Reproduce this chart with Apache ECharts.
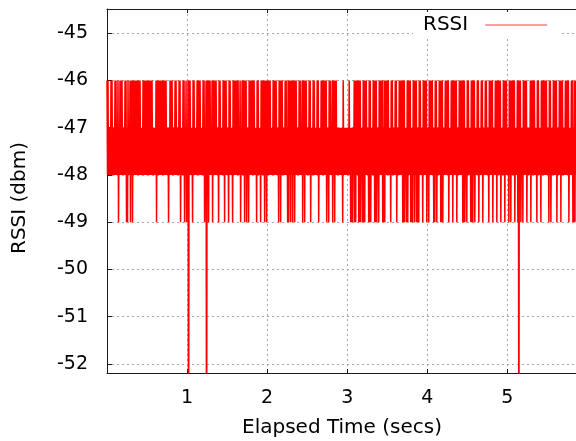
<!DOCTYPE html>
<html>
<head>
<meta charset="utf-8">
<title>RSSI vs elapsed time</title>
<script src="https://cdn.jsdelivr.net/npm/echarts@6/dist/echarts.min.js"></script>
<style>
  html, body { margin: 0; padding: 0; background: #ffffff; }
  #chart { width: 576px; height: 441px; }
</style>
</head>
<body>
<div id="chart"></div>
<script>
// Time between consecutive RSSI readings, in seconds
const sampleInterval = 0.00625;

// Received signal strength readings (dBm), in capture order
const rssi = [
  -46, -48, -46, -48, -47, -48, -47, -48, -46, -48, -46, -48, -47, -48, -47, -48, -46, -48, -46, -48,
  -47, -48, -46, -49, -47, -48, -46, -48, -46, -48, -46, -48, -47, -48, -47, -48, -46, -48, -46, -49,
  -47, -49, -46, -48, -47, -48, -46, -49, -46, -48, -46, -49, -46, -48, -46, -48, -46, -48, -46, -48,
  -46, -48, -46, -48, -46, -48, -46, -48, -47, -48, -47, -48, -46, -48, -46, -48, -46, -48, -46, -48,
  -46, -48, -46, -48, -46, -48, -46, -48, -46, -48, -46, -48, -47, -48, -47, -48, -47, -48, -46, -49,
  -46, -48, -46, -48, -46, -48, -46, -48, -46, -48, -46, -48, -46, -48, -46, -48, -46, -48, -46, -48,
  -47, -48, -47, -49, -47, -48, -46, -48, -46, -48, -46, -48, -47, -48, -47, -48, -46, -48, -46, -48,
  -47, -48, -47, -48, -46, -48, -46, -49, -47, -48, -47, -48, -46, -48, -46, -49, -47, -48, -46, -49,
  -47, -48, -46, -56, -46, -48, -46, -48, -47, -48, -47, -49, -46, -48, -46, -48, -47, -48, -47, -48,
  -46, -48, -46, -48, -46, -48, -46, -48, -47, -48, -47, -48, -46, -48, -46, -49, -47, -48, -46, -56,
  -46, -48, -46, -49, -46, -48, -46, -48, -47, -48, -46, -49, -46, -48, -46, -48, -46, -48, -46, -48,
  -47, -48, -47, -49, -46, -48, -46, -48, -47, -48, -47, -48, -46, -48, -46, -49, -46, -48, -46, -48,
  -47, -48, -47, -49, -46, -48, -46, -48, -47, -48, -47, -49, -46, -48, -46, -48, -46, -48, -46, -48,
  -46, -48, -46, -48, -47, -48, -46, -49, -47, -48, -46, -48, -46, -48, -46, -49, -46, -48, -46, -49,
  -47, -48, -47, -49, -46, -48, -46, -48, -46, -48, -46, -48, -46, -48, -46, -48, -47, -48, -47, -49,
  -46, -48, -46, -48, -47, -48, -47, -49, -46, -48, -46, -48, -46, -48, -46, -49, -46, -48, -46, -49,
  -46, -48, -46, -48, -46, -48, -46, -48, -47, -48, -47, -48, -46, -48, -46, -48, -46, -48, -46, -48,
  -47, -48, -47, -49, -46, -48, -46, -49, -46, -48, -46, -48, -47, -48, -47, -48, -46, -48, -46, -48,
  -47, -49, -46, -49, -46, -48, -46, -49, -46, -48, -46, -49, -46, -48, -46, -49, -46, -48, -46, -48,
  -47, -48, -47, -48, -46, -48, -46, -48, -47, -48, -46, -49, -46, -48, -46, -49, -46, -48, -46, -48,
  -47, -48, -47, -48, -46, -48, -46, -49, -47, -48, -47, -48, -46, -48, -46, -48, -47, -48, -47, -48,
  -46, -48, -46, -49, -47, -48, -47, -48, -46, -48, -46, -48, -46, -48, -46, -48, -46, -48, -46, -49,
  -47, -48, -47, -49, -46, -48, -46, -48, -47, -48, -46, -49, -46, -48, -46, -49, -46, -48, -46, -48,
  -47, -48, -47, -48, -47, -48, -47, -48, -47, -48, -47, -49, -46, -48, -47, -48, -47, -48, -47, -48,
  -47, -48, -47, -48, -46, -48, -47, -49, -47, -49, -47, -49, -47, -48, -46, -49, -46, -49, -46, -48,
  -46, -48, -46, -49, -46, -49, -46, -49, -47, -48, -47, -49, -46, -49, -46, -49, -46, -48, -46, -48,
  -47, -48, -47, -49, -46, -49, -46, -49, -47, -48, -47, -48, -46, -48, -46, -49, -46, -49, -46, -49,
  -47, -48, -47, -49, -46, -48, -46, -48, -46, -48, -46, -49, -47, -49, -46, -49, -46, -48, -46, -48,
  -46, -48, -46, -48, -47, -48, -47, -49, -46, -48, -46, -48, -47, -48, -47, -48, -46, -48, -46, -49,
  -47, -48, -47, -48, -46, -48, -46, -48, -46, -48, -46, -49, -46, -49, -46, -49, -47, -48, -47, -49,
  -46, -49, -46, -48, -46, -48, -46, -49, -47, -49, -47, -49, -46, -48, -46, -49, -46, -48, -46, -49,
  -47, -49, -47, -49, -46, -48, -46, -48, -47, -48, -47, -49, -46, -48, -46, -48, -46, -48, -46, -49,
  -47, -48, -47, -49, -46, -48, -46, -48, -46, -48, -46, -48, -47, -49, -47, -49, -46, -48, -46, -49,
  -47, -48, -47, -48, -46, -48, -46, -49, -46, -49, -46, -49, -47, -48, -47, -48, -46, -48, -46, -48,
  -46, -48, -46, -49, -47, -48, -47, -48, -46, -48, -46, -49, -46, -48, -46, -48, -46, -48, -46, -49,
  -47, -48, -47, -48, -46, -48, -46, -48, -46, -48, -46, -49, -46, -49, -46, -49, -47, -48, -47, -49,
  -46, -48, -46, -48, -47, -48, -47, -49, -46, -49, -46, -49, -46, -48, -46, -49, -47, -48, -47, -48,
  -46, -48, -46, -49, -47, -48, -47, -48, -46, -48, -46, -49, -47, -48, -47, -48, -46, -48, -46, -48,
  -47, -48, -47, -49, -46, -48, -46, -48, -46, -48, -46, -49, -47, -48, -47, -48, -46, -48, -46, -49,
  -46, -48, -46, -48, -46, -48, -46, -49, -47, -48, -47, -48, -46, -48, -46, -49, -46, -48, -46, -48,
  -47, -48, -47, -49, -46, -48, -46, -49, -46, -48, -46, -48, -46, -48, -46, -49, -47, -48, -47, -48,
  -46, -49, -46, -55, -46, -48, -46, -49, -47, -48, -47, -49, -46, -48, -46, -48, -46, -48, -46, -49,
  -47, -48, -47, -48, -47, -48, -46, -49, -46, -48, -46, -48, -46, -48, -46, -48, -47, -48, -47, -49,
  -46, -48, -46, -48, -47, -48, -47, -49, -46, -48, -46, -48, -46, -48, -46, -48, -46, -48, -46, -48,
  -47, -48, -47, -49, -46, -48, -46, -49, -47, -48, -47, -48, -46, -48, -46, -48, -46, -48, -46, -49,
  -47, -48, -47, -48, -46, -48, -46, -49, -46, -48, -46, -48, -47, -48, -47, -48, -46, -48, -46, -48,
  -46, -48, -46, -49, -47, -48, -47, -48, -46, -48, -46, -49, -47, -49, -46, -49, -46, -48, -46, -49
];

// Axis tick labels
const timeTicks = [1, 2, 3, 4, 5];
const rssiTicks = [-52, -51, -50, -49, -48, -47, -46, -45];

const seriesName = 'RSSI';
const fontFamily = 'DejaVu Sans';

// Pair each reading with its elapsed time
const points = rssi.map((v, i) => [i * sampleInterval, v]);

const gridLine = { show: true, lineStyle: { color: '#a8a8a8', width: 1, type: [2, 3] } };
const borderLine = { show: true, lineStyle: { color: '#1a1a1a', width: 1 } };

const chart = echarts.init(document.getElementById('chart'), null, { renderer: 'canvas' });

chart.setOption({
  animation: false,
  backgroundColor: '#ffffff',
  grid: {
    left: 107, right: -1, top: 9, bottom: 68,
    containLabel: false,
    outerBoundsMode: 'none'
  },
  legend: {
    data: [{ name: seriesName, icon: 'rect' }],
    left: 413, top: 12,
    align: 'right',
    itemWidth: 62, itemHeight: 1,
    padding: [3, 14, 3, 10],
    backgroundColor: '#ffffff',
    itemStyle: { color: '#ff4040' },
    textStyle: { fontFamily, fontSize: 20, color: '#000', padding: [0, 12, 0, 0] },
    z: 10
  },
  xAxis: [
    {
      type: 'value',
      min: 0, max: 5.87,
      minInterval: 1, maxInterval: 1,
      name: 'Elapsed Time (secs)',
      nameLocation: 'middle',
      nameGap: 45,
      nameTextStyle: { fontFamily, fontSize: 20, color: '#000' },
      axisLine: borderLine,
      axisTick: { show: true, inside: true, length: 4, lineStyle: { color: '#1a1a1a' } },
      axisLabel: {
        margin: 16,
        fontFamily, fontSize: 19, color: '#000',
        formatter: v => (timeTicks.includes(v) ? String(v) : '')
      },
      splitLine: gridLine
    },
    {
      type: 'value',
      position: 'top',
      min: 0, max: 5.87,
      minInterval: 1, maxInterval: 1,
      axisLine: borderLine,
      axisTick: { show: true, inside: true, length: 4, lineStyle: { color: '#1a1a1a' } },
      axisLabel: { show: false },
      splitLine: { show: false }
    }
  ],
  yAxis: {
    type: 'value',
    min: -52.19, max: -44.49,
    minInterval: 1, maxInterval: 1,
    name: 'RSSI (dbm)',
    nameLocation: 'middle',
    nameGap: 77,
    nameTextStyle: { fontFamily, fontSize: 20, color: '#000', padding: [0, 14, 0, 0] },
    axisLine: borderLine,
    axisTick: { show: true, inside: true, length: 5, lineStyle: { color: '#1a1a1a' } },
    axisLabel: {
      margin: 19,
      fontFamily, fontSize: 19, color: '#000',
      formatter: v => (rssiTicks.includes(v) ? String(v) : '')
    },
    splitLine: gridLine
  },
  series: [{
    name: seriesName,
    type: 'line',
    data: points,
    showSymbol: false,
    symbol: 'none',
    clip: true,
    lineStyle: { color: '#ff0000', width: 1.5 },
    itemStyle: { color: '#ff0000' },
    z: 3
  }]
});
</script>
</body>
</html>
